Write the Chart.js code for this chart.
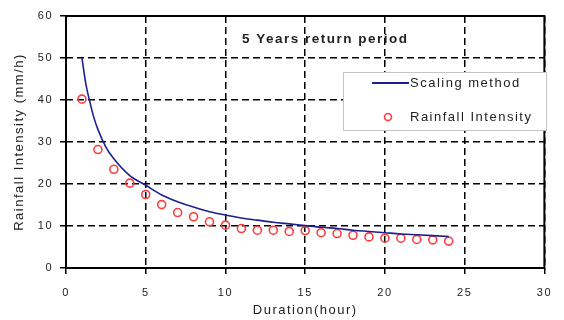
<!DOCTYPE html>
<html>
<head>
<meta charset="utf-8">
<script src="https://cdn.jsdelivr.net/npm/chart.js@4/dist/chart.umd.min.js"></script>
<style>
  html, body { margin: 0; padding: 0; background: #ffffff; }
  canvas { display: block; }
</style>
</head>
<body>
<canvas id="chart" width="564" height="320"></canvas>
<script>
// Storm duration (hours) for the observed intensities
const durations = [1, 2, 3, 4, 5, 6, 7, 8, 9, 10, 11, 12, 13, 14, 15, 16, 17, 18, 19, 20, 21, 22, 23, 24];
// Observed rainfall intensity (mm/h)
const observedIntensity = [40.2, 28.2, 23.5, 20.2, 17.5, 15.1, 13.2, 12.2, 11.0, 10.2, 9.4, 9.0,
                           9.0, 8.7, 8.9, 8.4, 8.2, 7.8, 7.4, 7.1, 7.1, 6.8, 6.7, 6.4];
// Scaling-method curve: durations (hours) and intensities (mm/h)
const scalingDurations = [1, 1.25, 1.5, 1.75, 2, 2.5, 3, 4, 5, 6, 7, 8, 9, 10, 11, 12,
                          13, 14, 15, 16, 17, 18, 19, 20, 21, 22, 23, 24];
const scalingIntensity = [50.0, 43.7, 39.5, 35.8, 33.0, 28.8, 26.0, 22.0, 19.7, 17.4, 15.8, 14.5,
                          13.4, 12.6, 11.9, 11.4, 10.9, 10.5, 10.1, 9.7, 9.4, 9.0, 8.7, 8.4,
                          8.1, 7.9, 7.7, 7.5];
// Axis ranges and tick spacing
const xRange = [0, 30];
const xStep = 5;
const yRange = [0, 60];
const yStep = 10;

const chartTitle = '5 Years return period';
const xTitle = 'Duration(hour)';
const yTitle = 'Rainfall Intensity (mm/h)';
const seriesNames = ['Scaling method', 'Rainfall Intensity'];

const FONT = '"Liberation Sans", Arial, sans-serif';
const TEXT = '#222222';
const LINE_BLUE = '#1e1e8e';
const POINT_RED = '#ff3b3b';
const SPACING = '1.5px';

const toXY = (xs, ys) => xs.map((d, i) => ({ x: d, y: ys[i] }));

// Wide letter spacing for all canvas text (reset whenever the canvas is resized)
const spacingPlugin = {
  id: 'spacing',
  beforeLayout(chart) { chart.ctx.letterSpacing = SPACING; },
  beforeDraw(chart) { chart.ctx.letterSpacing = SPACING; }
};

// Plot frame, in-plot title and boxed legend
const decorPlugin = {
  id: 'decor',
  afterDraw(chart) {
    const ctx = chart.ctx;
    const a = chart.chartArea;
    ctx.save();
    ctx.letterSpacing = SPACING;

    // frame around the plot area
    ctx.setLineDash([]);
    ctx.strokeStyle = '#000000';
    ctx.lineWidth = 2;
    ctx.strokeRect(a.left, a.top, a.right - a.left, a.bottom - a.top);

    // title inside the plot
    ctx.fillStyle = TEXT;
    ctx.font = 'bold 13.5px ' + FONT;
    ctx.textAlign = 'left';
    ctx.textBaseline = 'middle';
    ctx.fillText(chartTitle, 242, 39);

    // legend box
    const bx = 343, by = 72, bw = 203, bh = 58;
    ctx.fillStyle = '#ffffff';
    ctx.fillRect(bx, by, bw, bh);
    ctx.strokeStyle = '#c4c4c4';
    ctx.lineWidth = 1;
    ctx.strokeRect(bx + 0.5, by + 0.5, bw, bh);

    const line = chart.data.datasets[0];
    const pts = chart.data.datasets[1];
    ctx.font = '13px ' + FONT;
    ctx.textBaseline = 'middle';

    ctx.strokeStyle = line.borderColor;
    ctx.lineWidth = 2;
    ctx.beginPath();
    ctx.moveTo(372, 83);
    ctx.lineTo(409, 83);
    ctx.stroke();
    ctx.fillStyle = TEXT;
    ctx.fillText(line.label, 410, 83);

    ctx.strokeStyle = pts.borderColor;
    ctx.lineWidth = 1.6;
    ctx.beginPath();
    ctx.arc(388, 117, 3.5, 0, Math.PI * 2);
    ctx.stroke();
    ctx.fillStyle = TEXT;
    ctx.fillText(pts.label, 410, 117);

    ctx.restore();
  }
};

const gridCommon = {
  color: '#000000',
  lineWidth: 1.5,
  drawTicks: true,
  tickLength: 6,
  tickColor: '#000000',
  tickWidth: 1.5,
  tickBorderDash: []
};

new Chart(document.getElementById('chart'), {
  data: {
    datasets: [
      {
        type: 'line',
        label: seriesNames[0],
        data: toXY(scalingDurations, scalingIntensity),
        borderColor: LINE_BLUE,
        borderWidth: 1.6,
        pointRadius: 0,
        fill: false,
        cubicInterpolationMode: 'monotone',
        order: 0
      },
      {
        type: 'scatter',
        label: seriesNames[1],
        data: toXY(durations, observedIntensity),
        borderColor: POINT_RED,
        backgroundColor: 'rgba(0,0,0,0)',
        borderWidth: 1.6,
        pointRadius: 4,
        pointStyle: 'circle',
        order: 1
      }
    ]
  },
  options: {
    responsive: false,
    animation: false,
    devicePixelRatio: 1,
    layout: { padding: { left: 0, right: 14, top: 16, bottom: 0 } },
    plugins: {
      legend: { display: false },
      tooltip: { enabled: false },
      title: { display: false }
    },
    scales: {
      x: {
        type: 'linear',
        min: xRange[0],
        max: xRange[1],
        ticks: { stepSize: xStep, color: TEXT, font: { family: FONT, size: 11 }, padding: 12, maxRotation: 0 },
        grid: gridCommon,
        border: { display: false, dash: [7, 4] },
        title: { display: true, text: xTitle, color: TEXT, font: { family: FONT, size: 13 }, padding: { top: 0, bottom: 2 } },
        afterFit(scale) { scale.height = 52; }
      },
      y: {
        type: 'linear',
        min: yRange[0],
        max: yRange[1],
        ticks: { stepSize: yStep, color: TEXT, font: { family: FONT, size: 11 }, padding: 7 },
        grid: gridCommon,
        border: { display: false, dash: [7, 4] },
        title: { display: true, text: yTitle, color: TEXT, font: { family: FONT, size: 13 }, padding: { top: 12, bottom: 0 } },
        afterFit(scale) { scale.width = 66; }
      }
    }
  },
  plugins: [spacingPlugin, decorPlugin]
});
</script>
</body>
</html>
